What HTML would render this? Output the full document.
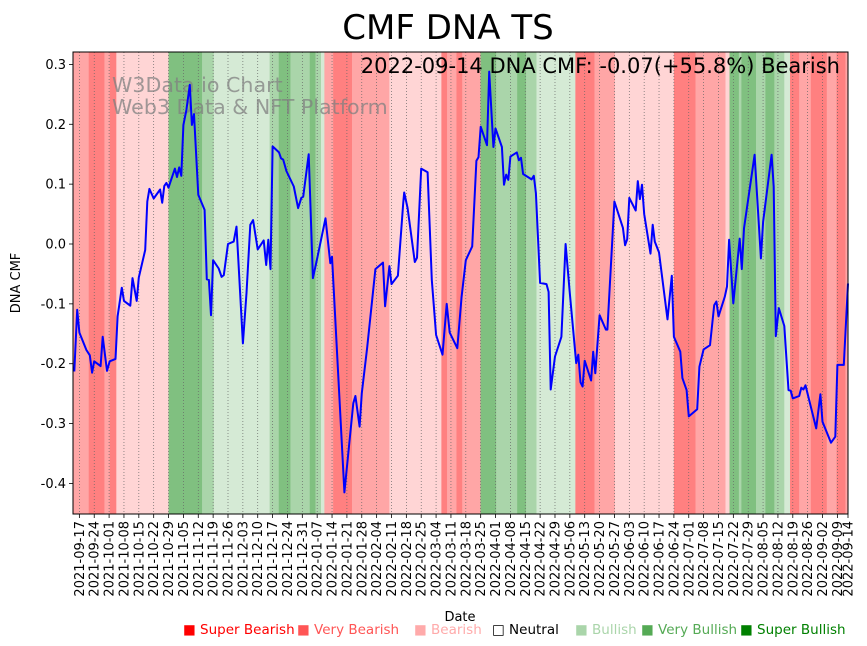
<!DOCTYPE html>
<html><head><meta charset="utf-8"><style>
body{margin:0;background:#fff;}
svg{display:block;font-family:"DejaVu Sans","Liberation Sans",sans-serif;}
</style></head><body>
<svg id="chart" width="867" height="646" viewBox="0 0 867 646" xmlns="http://www.w3.org/2000/svg">
<rect width="867" height="646" fill="#fff"/>
<g id="bands"></g>
<g id="grid"></g>
<text x="112" y="92" font-size="20.6" fill="#808080" fill-opacity="0.75">W3Data.io Chart</text>
<text x="112" y="114" font-size="20.6" fill="#808080" fill-opacity="0.75">Web3 Data &amp; NFT Platform</text>
<g id="series"></g>
<text x="840" y="73" font-size="21" text-anchor="end" fill="#000">2022-09-14 DNA CMF: -0.07(+55.8%) Bearish</text>
<rect x="73" y="52" width="775" height="462" fill="none" stroke="#000" stroke-width="1"/>
<g id="yaxis"></g>
<g id="xaxis"></g>
<text x="448" y="39" font-size="34" text-anchor="middle">CMF DNA TS</text>
<text x="20" y="283" font-size="13" text-anchor="middle" transform="rotate(-90 20 283)">DNA CMF</text>
<text x="460" y="621" font-size="13" text-anchor="middle">Date</text>
<g id="legend" font-size="13.5">
<g><text x="183" y="634" fill="#ff0000">■ Super Bearish</text></g>
<g><text x="297" y="634" fill="#ff5555">■ Very Bearish</text></g>
<g><text x="414" y="634" fill="#ffaaaa">■ Bearish</text></g>
<g><text x="492" y="634" fill="#000">□ Neutral</text></g>
<g><text x="575" y="634" fill="#aad5aa">■ Bullish</text></g>
<g><text x="641" y="634" fill="#55aa55">■ Very Bullish</text></g>
<g><text x="740" y="634" fill="#008000">■ Super Bullish</text></g>
</g>
</svg>
<script>
// ---- data (days offset from 2021-09-17) ----
const dayOffsets = [-2.4,-1,0,3.3,4.9,6,7,10,11,13,14.3,17,18,20,21,24,25,27,28,31,32,33,35,38,39,40,41,42,45,46,47,48,49,50.4,52,53,54,56,59,60,61,62,63,65.6,67,68,70,72.7,74,77,78.7,80.5,81.8,84,86.8,88,89,90,91,94,95,96,97.5,101,103,104.5,105.4,108,110,111.6,115.9,118.2,119,124.8,129,130,132,133,135.5,139.4,143,144,146,147,150,152.5,153,154.6,158,159,161,164,166,168,171,173,174.4,178,180,182,185,187,188,189,192,193,195,196,199,200,201,202,203,206,207,208,209,213,214,215,217,220,221,222,224,227,229,231,234,235,236,237,238,241,242,243,245,248,248.7,252,256,257,258,259,262,263,264,265,266,269,270,271,273,277,279,280,283,284,286,287,291,292,294,297,299,300,301,304,305,306,308,311,312,313,318,321,322,326,327,328,329.4,332,334,335,336,339,340,341,342,347,349,350,354,356,357,360,362];
const cmfValues = [-0.213,-0.110,-0.148,-0.177,-0.186,-0.215,-0.196,-0.204,-0.155,-0.212,-0.196,-0.192,-0.121,-0.073,-0.095,-0.103,-0.057,-0.095,-0.056,-0.010,0.071,0.092,0.076,0.091,0.069,0.097,0.102,0.094,0.126,0.112,0.128,0.114,0.199,0.224,0.266,0.199,0.217,0.082,0.057,-0.059,-0.060,-0.119,-0.027,-0.041,-0.055,-0.052,0.000,0.004,0.029,-0.166,-0.082,0.032,0.040,-0.009,0.006,-0.035,0.007,-0.042,0.163,0.153,0.143,0.141,0.122,0.096,0.060,0.077,0.079,0.150,-0.057,-0.031,0.043,-0.032,-0.021,-0.415,-0.266,-0.254,-0.305,-0.249,-0.174,-0.042,-0.031,-0.104,-0.037,-0.067,-0.053,0.068,0.086,0.060,-0.030,-0.023,0.126,0.120,-0.060,-0.152,-0.185,-0.100,-0.148,-0.174,-0.088,-0.027,-0.004,0.139,0.145,0.196,0.165,0.288,0.162,0.193,0.162,0.099,0.116,0.107,0.146,0.153,0.140,0.144,0.117,0.108,0.114,0.085,-0.065,-0.067,-0.080,-0.243,-0.188,-0.155,0.000,-0.082,-0.199,-0.185,-0.231,-0.238,-0.195,-0.228,-0.180,-0.216,-0.119,-0.143,-0.143,0.071,0.027,-0.002,0.008,0.077,0.056,0.105,0.075,0.099,0.050,-0.016,0.032,0.004,-0.014,-0.126,-0.053,-0.155,-0.180,-0.224,-0.244,-0.288,-0.276,-0.205,-0.176,-0.169,-0.102,-0.096,-0.121,-0.088,-0.071,0.007,-0.099,0.009,-0.042,0.026,0.149,-0.024,0.037,0.149,0.096,-0.154,-0.107,-0.137,-0.244,-0.245,-0.258,-0.254,-0.240,-0.243,-0.236,-0.308,-0.251,-0.297,-0.332,-0.322,-0.202,-0.202,-0.066];
const bandStarts = [-3,4.4,11.8,14.3,17.4,42,57.8,63.3,89.6,93.9,99.4,108.5,111.2,113.8,115.4,119.5,128.4,146,170.5,173.2,177.6,180.3,188.9,196.3,206.2,210.4,215.3,233.6,242.6,252.2,280,290.2,304.3,306.2,310.6,311.8,318.7,323.1,327.3,332,334.7,339,344.5,352,356.6,360.8];
const bandLevels = [-2,-3,-2,-3,-1,3,2,1,2,3,2,3,2,1,-2,-3,-2,-1,-3,-2,-3,-2,3,2,3,2,1,-3,-2,-1,-3,-2,-1,3,2,3,2,3,2,1,-3,-2,-3,-2,-3,-2];
const tickLabels = ["2021-09-17","2021-09-24","2021-10-01","2021-10-08","2021-10-15","2021-10-22","2021-10-29","2021-11-05","2021-11-12","2021-11-19","2021-11-26","2021-12-03","2021-12-10","2021-12-17","2021-12-24","2021-12-31","2022-01-07","2022-01-14","2022-01-21","2022-01-28","2022-02-04","2022-02-11","2022-02-18","2022-02-25","2022-03-04","2022-03-11","2022-03-18","2022-03-25","2022-04-01","2022-04-08","2022-04-15","2022-04-22","2022-04-29","2022-05-06","2022-05-13","2022-05-20","2022-05-27","2022-06-03","2022-06-10","2022-06-17","2022-06-24","2022-07-01","2022-07-08","2022-07-15","2022-07-22","2022-07-29","2022-08-05","2022-08-12","2022-08-19","2022-08-26","2022-09-02","2022-09-09","2022-09-14"];
const yTicks = [0.3,0.2,0.1,0.0,-0.1,-0.2,-0.3,-0.4];

const NS="http://www.w3.org/2000/svg";
const X0=73,X1=848,Y0=52,Y1=514,DMIN=-3,DMAX=362;
function xs(d){return X0+(d-DMIN)/(DMAX-DMIN)*(X1-X0);}
function ys(v){return 244-v*598.6;}
function mk(tag,attrs,parent){const e=document.createElementNS(NS,tag);for(const k in attrs)e.setAttribute(k,attrs[k]);parent.appendChild(e);return e;}
const bandColors={"-3":"#ff8080","-2":"#ffa6a6","-1":"#ffd5d5","1":"#d5ead5","2":"#aad5aa","3":"#80c080"};
const bandsG=document.getElementById('bands');
bandStarts.forEach((s,i)=>{
  const e=i+1<bandStarts.length?bandStarts[i+1]:DMAX;
  const r=mk('rect',{x:xs(s),y:Y0,width:Math.max(0,xs(e)-xs(s))+0.3,height:Y1-Y0,fill:bandColors[bandLevels[i]]},bandsG);
  
  
});
const base=Date.UTC(2021,8,17);
function dayOf(s){const p=s.split('-');return (Date.UTC(+p[0],+p[1]-1,+p[2])-base)/86400000;}
const gridG=document.getElementById('grid'),xa=document.getElementById('xaxis');
tickLabels.forEach(l=>{
  const x=xs(dayOf(l));
  const g=mk('line',{x1:x,x2:x,y1:Y0,y2:Y1,stroke:"#666",'stroke-width':0.7,'stroke-dasharray':'1,2'},gridG);
  
  
  const t=mk('line',{x1:x,x2:x,y1:Y1,y2:Y1+4,stroke:"#000",'stroke-width':0.8},xa);
  
  
  const tx=mk('text',{x:x+4.5,y:Y1+7,'font-size':13,'text-anchor':'end',transform:`rotate(-90 ${x+4.5} ${Y1+7})`},xa);
  tx.textContent=l;
  
  
});
const ya=document.getElementById('yaxis');
yTicks.forEach(v=>{
  const y=ys(v);
  const t=mk('line',{x1:X0-4,x2:X0,y1:y,y2:y,stroke:"#000",'stroke-width':0.8},ya);
  
  
  const tx=mk('text',{x:X0-7,y:y+4.5,'font-size':13,'text-anchor':'end'},ya);
  tx.textContent=(v<0?'-':'')+Math.abs(v).toFixed(1);
  
  
});
const pts=dayOffsets.map((d,i)=>xs(d).toFixed(1)+','+ys(cmfValues[i]).toFixed(1)).join(' ');
const line=mk('polyline',{points:pts,fill:'none',stroke:'#0000ff','stroke-width':2,'stroke-linejoin':'round'},document.getElementById('series'));


</script>
</body></html>
